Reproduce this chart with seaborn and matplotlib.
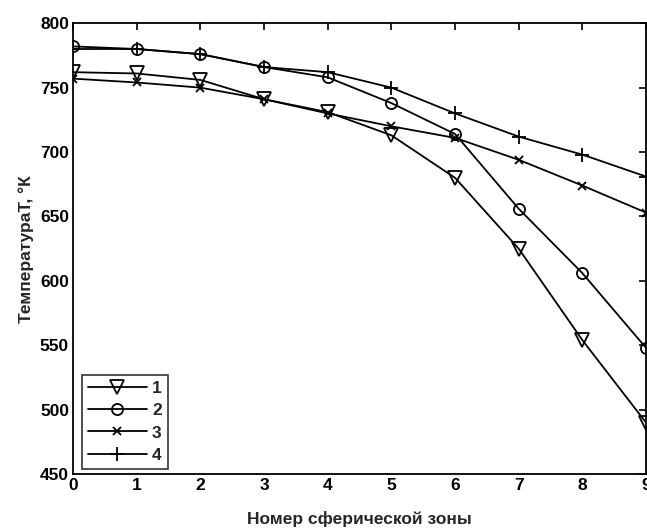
import pandas as pd
import seaborn as sns
import matplotlib.pyplot as plt

zones = [0, 1, 2, 3, 4, 5, 6, 7, 8, 9]
t1 = [762, 761, 756, 741, 731, 713, 680, 625, 554, 490]
t2 = [782, 780, 776, 766, 758, 738, 714, 656, 606, 548]
t3 = [757, 754, 750, 741, 730, 720, 711, 694, 674, 653]
t4 = [780, 780, 776, 766, 762, 750, 730, 712, 698, 681]
labels = ['1', '2', '3', '4']
markers = ['v', 'o', 'x', '+']
msizes = [10, 8, 6, 10]

sns.set_theme(style='white')
plt.rcParams['font.family'] = ['Liberation Sans', 'DejaVu Sans']

fig, ax = plt.subplots(figsize=(6.47, 5.28), dpi=100)
fig.subplots_adjust(left=0.113, right=0.9985, top=0.956, bottom=0.102)

for vals, lab, mk, ms in zip([t1, t2, t3, t4], labels, markers, msizes):
    df = pd.DataFrame({'zone': zones, 'T': vals})
    sns.lineplot(data=df, x='zone', y='T', ax=ax, color='black', lw=1.3,
                 marker=mk, markersize=ms, markerfacecolor='none',
                 markeredgecolor='black', markeredgewidth=1.3, label=lab)

ax.set_xlim(0, 9)
ax.set_ylim(450, 800)
ax.set_xticks(range(0, 10))
ax.set_yticks(range(450, 801, 50))
ax.tick_params(direction='in', top=True, right=True, length=5, width=1.2,
               labelsize=12.5, colors='black', pad=3)
for lbl in ax.get_xticklabels() + ax.get_yticklabels():
    lbl.set_fontweight('bold')
for s in ax.spines.values():
    s.set_color('black')
    s.set_linewidth(1.3)

ax.set_xlabel('Номер сферической зоны', fontsize=12.5, fontweight='bold', labelpad=13)
ax.set_ylabel('ТемператураТ, °К', fontsize=12.5, fontweight='bold', labelpad=4)

leg = ax.legend(loc='lower left', bbox_to_anchor=(0.015, 0.012), fontsize=12.5,
                handlelength=3.4, frameon=True, fancybox=False, borderpad=0.35,
                labelspacing=0.4, handletextpad=0.3, borderaxespad=0)
leg.get_frame().set_edgecolor('black')
leg.get_frame().set_linewidth(1.2)
for t in leg.get_texts():
    t.set_fontweight('bold')

plt.savefig('out.png', dpi=100)
